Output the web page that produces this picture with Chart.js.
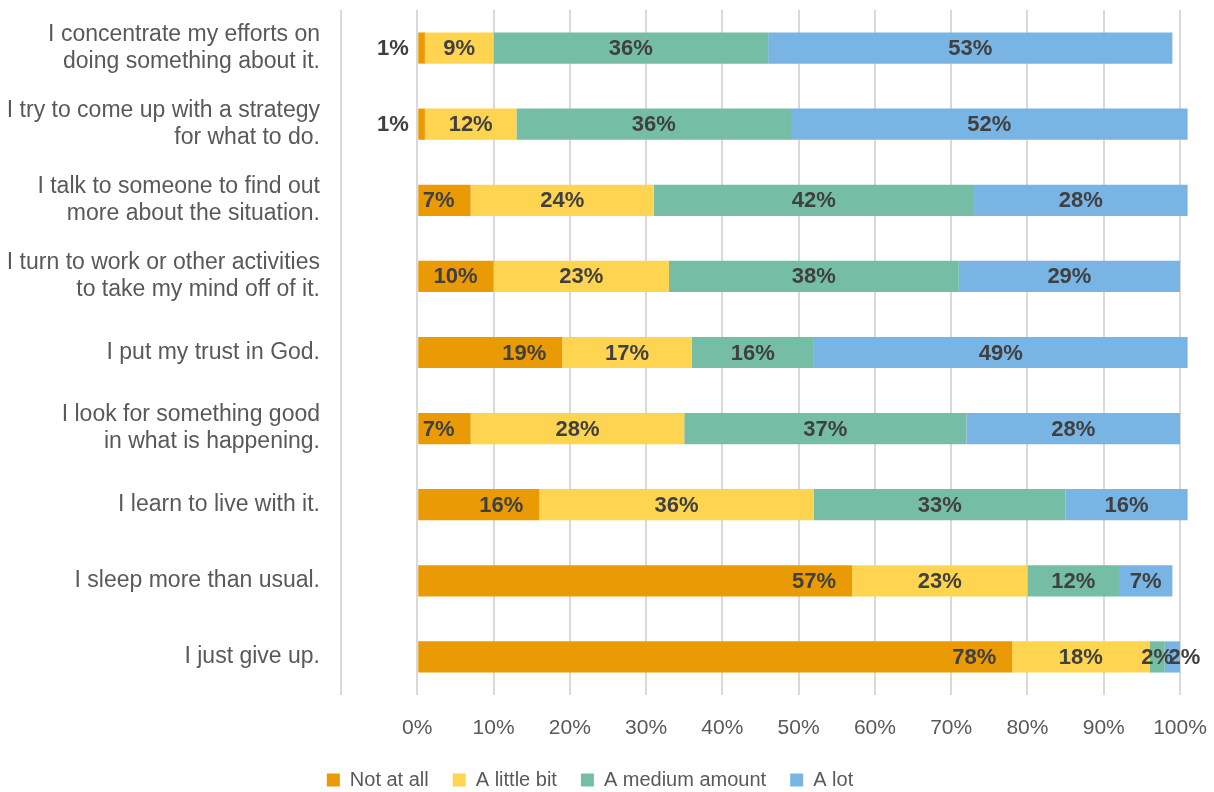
<!DOCTYPE html>
<html>
<head>
<meta charset="utf-8">
<script src="https://cdn.jsdelivr.net/npm/chart.js@4"></script>
<style>
  html, body { margin: 0; padding: 0; background: #fff; }
  #wrap { width: 1214px; height: 792px; }
</style>
</head>
<body>
<div id="wrap"><canvas id="copingChart" width="1214" height="792"></canvas></div>
<script>
var statements = [
    ['I concentrate my efforts on', 'doing something about it.'],
    ['I try to come up with a strategy', 'for what to do.'],
    ['I talk to someone to find out', 'more about the situation.'],
    ['I turn to work or other activities', 'to take my mind off of it.'],
    'I put my trust in God.',
    ['I look for something good', 'in what is happening.'],
    'I learn to live with it.',
    'I sleep more than usual.',
    'I just give up.'
];
var notAtAll   = [1, 1, 7, 10, 19, 7, 16, 57, 78];
var littleBit  = [9, 12, 24, 23, 17, 28, 36, 23, 18];
var mediumAmt  = [36, 36, 42, 38, 16, 37, 33, 12, 2];
var aLot       = [53, 52, 28, 29, 49, 28, 16, 7, 2];
var seriesNames = ['Not at all', 'A little bit', 'A medium amount', 'A lot'];

var colours = ['#E99A04', '#FFD450', '#75BEA5', '#78B5E4'];
var textGrey = '#595959';
var labelFont = '"Liberation Sans", Arial, sans-serif';

// percentage labels on the segments: first series sits at the inner end,
// the rest are centred
const barLabels = {
    id: 'barLabels',
    afterDatasetsDraw(chart) {
        const ctx = chart.ctx;
        ctx.save();
        ctx.font = 'bold 22px ' + labelFont;
        ctx.fillStyle = '#404040';
        ctx.textBaseline = 'middle';
        chart.data.datasets.forEach(function(ds, i){
            const meta = chart.getDatasetMeta(i);
            meta.data.forEach(function(bar, j){
                const txt = ds.data[j] + '%';
                if (i === 0) {
                    ctx.textAlign = 'right';
                    ctx.fillText(txt, bar.x - 16, bar.y + 1);
                } else {
                    let cx = (bar.x + bar.base) / 2;
                    // tiny last segment: nudge so it does not sit on its neighbour
                    if (i === 3 && Math.abs(bar.x - bar.base) < 20) cx += 12;
                    ctx.textAlign = 'center';
                    ctx.fillText(txt, cx, bar.y + 1);
                }
            });
        });
        ctx.restore();
    }
};

function makeCopingChart(){
    var sets = [notAtAll, littleBit, mediumAmt, aLot];
    var datasets = [];
    for (var k = 0; k < sets.length; k++) {
        datasets.push({
            label: seriesNames[k],
            data: sets[k],
            backgroundColor: colours[k],
            borderWidth: 0,
            clip: false,
            barPercentage: 0.41,
            categoryPercentage: 1
        });
    }

    const config = {
        type: 'bar',
        data: { labels: statements, datasets: datasets },
        options: {
            indexAxis: 'y',
            responsive: false,
            animation: false,
            layout: { padding: { top: 10, right: 34, bottom: -8, left: 0 } },
            scales: {
                x: {
                    stacked: true,
                    min: -10,
                    max: 100,
                    grid: { color: '#D9D9D9', lineWidth: 2, drawTicks: false },
                    border: { display: false },
                    ticks: {
                        stepSize: 10,
                        padding: 21,
                        color: textGrey,
                        font: { family: labelFont, size: 21 },
                        callback: function(v){ return v < 0 ? '' : v + '%'; }
                    },
                    afterFit: function(scale){
                        scale.height = 51;
                        scale.paddingLeft = 0;
                        scale.paddingRight = 0;
                    }
                },
                y: {
                    stacked: true,
                    grid: { display: false },
                    border: { display: false },
                    ticks: {
                        padding: 13,
                        color: textGrey,
                        font: { family: labelFont, size: 23, lineHeight: 1.17 }
                    },
                    afterFit: function(scale){
                        scale.width = 341;
                        scale.paddingTop = 0;
                        scale.paddingBottom = 0;
                    }
                }
            },
            plugins: {
                legend: {
                    position: 'bottom',
                    labels: {
                        boxWidth: 13,
                        boxHeight: 13,
                        padding: 24,
                        color: textGrey,
                        font: { family: labelFont, size: 20 }
                    }
                },
                tooltip: { enabled: false }
            }
        },
        plugins: [barLabels]
    };

    new Chart(document.getElementById('copingChart'), config);
}

makeCopingChart();
</script>
</body>
</html>
